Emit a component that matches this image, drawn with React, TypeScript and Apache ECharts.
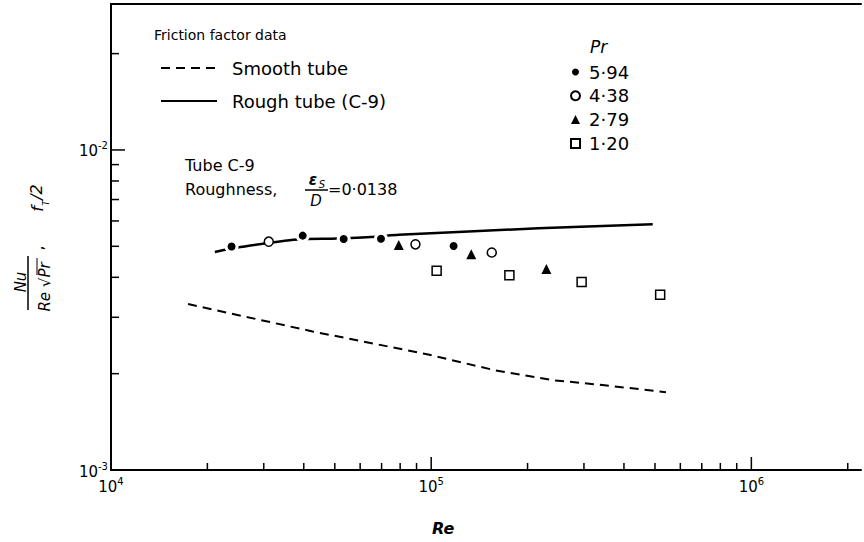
import React, { useEffect, useRef } from "react";
import * as echarts from "echarts";

// Smooth tube (dashed) curve
const smoothRe = [1.74e4, 4.26e4, 9.7e4, 1.58e5, 2.38e5, 3.48e5, 5.41e5];
const smoothVal = [3.3e-3, 2.71e-3, 2.3e-3, 2.05e-3, 1.91e-3, 1.84e-3, 1.75e-3];
// Rough tube (C-9) curve
const roughRe = [2.11e4, 2.57e4, 3.82e4, 5.08e4, 6.72e4, 7.92e4, 2.16e5, 4.92e5];
const roughVal = [4.8e-3, 4.98e-3, 5.25e-3, 5.29e-3, 5.36e-3, 5.43e-3, 5.69e-3, 5.86e-3];
// Data points by Pr
const pr594Re = [2.38e4, 3.97e4, 5.33e4, 6.97e4, 1.175e5];
const pr594Val = [4.99e-3, 5.4e-3, 5.27e-3, 5.28e-3, 5.01e-3];
const pr438Re = [3.11e4, 8.93e4, 1.546e5];
const pr438Val = [5.17e-3, 5.07e-3, 4.78e-3];
const pr279Re = [7.92e4, 1.334e5, 2.29e5];
const pr279Val = [5.05e-3, 4.72e-3, 4.25e-3];
const pr120Re = [1.04e5, 1.755e5, 2.95e5, 5.19e5];
const pr120Val = [4.19e-3, 4.06e-3, 3.87e-3, 3.53e-3];
const prLabels = ["5·94", "4·38", "2·79", "1·20"];
const lineLabels = ["Smooth tube", "Rough tube (C-9)"];
// Axis ticks
const xMinorTicks = [2e4, 3e4, 4e4, 5e4, 6e4, 7e4, 8e4, 9e4, 2e5, 3e5, 4e5, 5e5, 6e5, 7e5, 8e5, 9e5, 2e6];
const xMajorTicks = [1e5, 1e6];
const yMinorTicks = [2e-3, 3e-3, 4e-3, 5e-3, 6e-3, 7e-3, 8e-3, 9e-3, 2e-2];
const yMajorTicks = [1e-2];
const xMin = 1e4;
const xMax = 2.2e6;
const yMin = 1e-3;
const yMax = 0.02858;

const FONT = "DejaVu Sans";

function zip(a: number[], b: number[]) {
  return a.map((v, i) => [v, b[i]]);
}

function powLabel(v: number) {
  const e = Math.log10(v);
  const r = Math.round(e);
  if (Math.abs(e - r) > 1e-6) return "";
  return `{b|10}{s|${r < 0 ? "-" : ""}${Math.abs(r)}}`;
}

const richPow = {
  b: { fontSize: 15, fontFamily: FONT, color: "#000", lineHeight: 18, verticalAlign: "bottom" },
  s: { fontSize: 10, fontFamily: FONT, color: "#000", lineHeight: 18, verticalAlign: "top" },
};

function tickSeries(data: number[][], dx: number, dy: number) {
  return {
    type: "custom",
    coordinateSystem: "cartesian2d",
    silent: true,
    data,
    renderItem: (params: any, api: any) => {
      const p = api.coord([api.value(0), api.value(1)]);
      return {
        type: "line",
        shape: { x1: p[0], y1: p[1], x2: p[0] + dx, y2: p[1] + dy },
        style: { stroke: "#000", lineWidth: 1.5 },
      };
    },
  };
}

function txt(text: string, x: number, y: number, font: string, opts: any = {}) {
  return {
    type: "text",
    x,
    y,
    rotation: opts.rotation || 0,
    silent: true,
    style: {
      text,
      font,
      fill: "#000",
      align: opts.align || "left",
      textAlign: opts.align || "left",
      verticalAlign: "middle",
      textVerticalAlign: "middle",
    },
  };
}

export default function App() {
  const ref = useRef<HTMLDivElement>(null);
  useEffect(() => {
    if (!ref.current) return;
    const chart = echarts.init(ref.current, null, { renderer: "svg" });
    const R = Math.PI / 2;
    chart.setOption({
      animation: false,
      backgroundColor: "#fff",
      grid: { left: 111, right: 0, top: 4, bottom: 72, containLabel: false },
      xAxis: [
        {
          type: "log",
          logBase: 10,
          min: xMin,
          max: xMax,
          axisLine: { show: true, lineStyle: { color: "#000", width: 2 } },
          axisTick: { show: false },
          splitLine: { show: false },
          axisLabel: { formatter: powLabel, margin: 6, rich: richPow, color: "#000" },
        },
        {
          type: "log",
          logBase: 10,
          min: xMin,
          max: xMax,
          position: "top",
          axisLine: { show: true, lineStyle: { color: "#000", width: 2 } },
          axisTick: { show: false },
          splitLine: { show: false },
          axisLabel: { show: false },
        },
      ],
      yAxis: {
        type: "log",
        logBase: 10,
        min: yMin,
        max: yMax,
        axisLine: { show: true, lineStyle: { color: "#000", width: 2 } },
        axisTick: { show: false },
        splitLine: { show: false },
        axisLabel: { formatter: powLabel, margin: 3, rich: richPow, color: "#000" },
      },
      legend: [
        {
          orient: "vertical",
          left: 155,
          top: 53,
          itemWidth: 56,
          itemHeight: 14,
          itemGap: 13,
          data: lineLabels,
          itemStyle: { opacity: 0 },
          textStyle: { fontFamily: FONT, fontSize: 18, lineHeight: 20, color: "#000", padding: [0, 0, 0, 10] },
          selectedMode: false,
        },
        {
          orient: "vertical",
          left: 565,
          top: 58,
          itemWidth: 9,
          itemHeight: 9,
          itemGap: 5.8,
          data: prLabels,
          textStyle: { fontFamily: FONT, fontSize: 18, lineHeight: 17, color: "#000", padding: [0, 0, 0, 4] },
          selectedMode: false,
        },
      ],
      series: [
        {
          name: lineLabels[0],
          type: "line",
          data: zip(smoothRe, smoothVal),
          symbol: "none",
          lineStyle: { color: "#000", width: 2, type: [9, 6] },
          itemStyle: { color: "#000" },
        },
        {
          name: lineLabels[1],
          type: "line",
          data: zip(roughRe, roughVal),
          symbol: "none",
          smooth: 0.3,
          lineStyle: { color: "#000", width: 2.5 },
          itemStyle: { color: "#000" },
        },
        {
          name: prLabels[0],
          type: "scatter",
          data: zip(pr594Re, pr594Val),
          symbol: "circle",
          symbolSize: 11,
          itemStyle: { color: "#000", borderColor: "#fff", borderWidth: 3, opacity: 1 },
          z: 5,
        },
        {
          name: prLabels[1],
          type: "scatter",
          data: zip(pr438Re, pr438Val),
          symbol: "circle",
          symbolSize: 9,
          itemStyle: { color: "#fff", borderColor: "#000", borderWidth: 1.5, opacity: 1 },
          z: 5,
        },
        {
          name: prLabels[2],
          type: "scatter",
          data: zip(pr279Re, pr279Val),
          symbol: "triangle",
          symbolSize: 10,
          itemStyle: { color: "#000", opacity: 1 },
          z: 5,
        },
        {
          name: prLabels[3],
          type: "scatter",
          data: zip(pr120Re, pr120Val),
          symbol: "rect",
          symbolSize: 9,
          itemStyle: { color: "#fff", borderColor: "#000", borderWidth: 1.5, opacity: 1 },
          z: 5,
        },
        tickSeries(xMinorTicks.map((v) => [v, yMin]), 0, -7),
        tickSeries(xMajorTicks.map((v) => [v, yMin]), 0, -13),
        tickSeries(yMinorTicks.map((v) => [xMin, v]), 8, 0),
        tickSeries(yMajorTicks.map((v) => [xMin, v]), 14, 0),
      ],
      graphic: [
        txt("Friction factor data", 154, 35, `14px ${FONT}`),
        txt("Pr", 590, 47, `italic 17px ${FONT}`),
        txt("Tube C-9", 185, 165, `16px ${FONT}`),
        txt("Roughness,", 185, 189, `16px ${FONT}`),
        txt("ε", 313, 180, `italic bold 15px ${FONT}`, { align: "center" }),
        txt("S", 322, 184, `italic 10px ${FONT}`, { align: "center" }),
        { type: "line", silent: true, shape: { x1: 305, y1: 190, x2: 328, y2: 190 }, style: { stroke: "#000", lineWidth: 1.5 } },
        txt("D", 316, 201, `italic 15px ${FONT}`, { align: "center" }),
        txt("=0·0138", 328, 189, `16px ${FONT}`),
        txt("Re", 432, 528, `italic bold 16px ${FONT}`),
        // y-axis title (rotated)
        txt("Nu", 21, 282, `italic 15px ${FONT}`, { align: "center", rotation: R }),
        { type: "line", silent: true, shape: { x1: 28, y1: 256, x2: 28, y2: 310 }, style: { stroke: "#000", lineWidth: 1.5 } },
        txt("Re √Pr", 45, 287, `italic 15px ${FONT}`, { align: "center", rotation: R }),
        { type: "line", silent: true, shape: { x1: 37, y1: 258, x2: 37, y2: 275 }, style: { stroke: "#000", lineWidth: 1 } },
        txt(",", 37, 248, `16px ${FONT}`, { align: "center", rotation: R }),
        txt("f", 37, 209, `italic 16px ${FONT}`, { align: "center", rotation: R }),
        txt("T", 46, 203, `italic 9px ${FONT}`, { align: "center", rotation: R }),
        txt("/2", 36, 192, `italic 16px ${FONT}`, { align: "center", rotation: R }),
      ],
    });
    return () => chart.dispose();
  }, []);
  return <div ref={ref} style={{ width: 864, height: 542, position: "absolute", left: 0, top: 0 }} />;
}
